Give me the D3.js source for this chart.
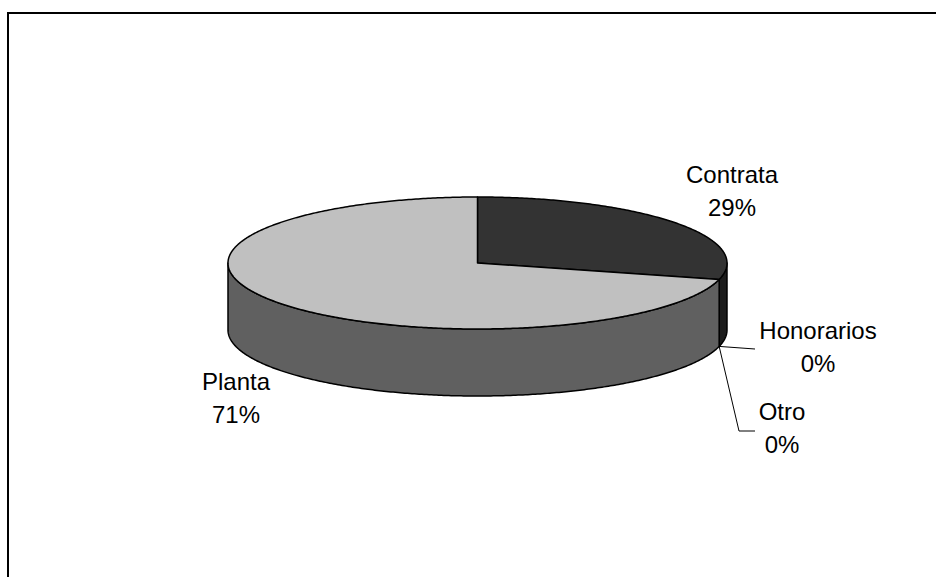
<!DOCTYPE html>
<html>
<head>
<meta charset="utf-8">
<script src="https://cdn.jsdelivr.net/npm/d3@7"></script>
<style>
  body { margin: 0; background: white; }
  svg { display: block; }
  text { font-family: "Liberation Sans", Arial, sans-serif; font-size: 24px; fill: black; }
</style>
</head>
<body>
<svg></svg>
<script>

var categories = ["Contrata", "Honorarios", "Otro", "Planta"];
var values = [29, 0, 0, 71];
var topColors = ["#333333", "#111111", "#888888", "#c0c0c0"];
var sideColors = ["#1c1c1c", "#080808", "#555555", "#606060"];

var width = 936, height = 577;

var cx = 477.5, cy = 263, rx = 249.5, ry = 66, depth = 67;

var svg = d3.select("svg")
    .attr("width", width)
    .attr("height", height);

// chart frame (runs off the right and bottom edges)
svg.append("rect")
    .attr("x", 8)
    .attr("y", 13)
    .attr("width", 1000)
    .attr("height", 1000)
    .attr("fill", "white")
    .style("stroke", "black")
    .style("stroke-width", "2");

var pie = d3.pie().sort(null).value(function(d) { return d; });
var arcs = pie(values);

// point on the ellipse, angle measured clockwise from 12 o'clock
function pt(a, yoff) {
    return [cx + rx * Math.sin(a), cy - ry * Math.cos(a) + (yoff || 0)];
}

function sample(a0, a1, yoff) {
    var n = Math.max(2, Math.ceil(Math.abs(a1 - a0) / 0.01));
    return d3.range(n + 1).map(function(i) {
        return pt(a0 + (a1 - a0) * i / n, yoff);
    });
}

var line = d3.line();

// sides (only the front half is visible)
arcs.forEach(function(d, i) {
    var s = Math.max(d.startAngle, Math.PI / 2);
    var e = Math.min(d.endAngle, 3 * Math.PI / 2);
    if (s >= e) return;
    var pts = sample(s, e, 0).concat(sample(e, s, depth));
    svg.append("path")
        .attr("d", line(pts) + "Z")
        .attr("fill", sideColors[i])
        .style("stroke", "black")
        .style("stroke-width", "1.5")
        .style("stroke-linejoin", "round");
});

// tops
arcs.forEach(function(d, i) {
    if (d.endAngle - d.startAngle <= 0) return;
    var pts = [[cx, cy]].concat(sample(d.startAngle, d.endAngle, 0));
    svg.append("path")
        .attr("d", line(pts) + "Z")
        .attr("fill", topColors[i])
        .style("stroke", "black")
        .style("stroke-width", "1.5")
        .style("stroke-linejoin", "round");
});

// labels: [x, baseline] of first line relative to nothing, leader path for tiny slices
var labelPos = {
    "Contrata":   { x: 732, y: 183, leader: null },
    "Honorarios": { x: 818, y: 339, leader: [[755, 349]] },
    "Otro":       { x: 782, y: 420, leader: [[739, 431], [755, 431]] },
    "Planta":     { x: 236, y: 390, leader: null }
};

var total = d3.sum(values);

arcs.forEach(function(d, i) {
    var name = categories[i];
    var lp = labelPos[name];
    var pct = Math.round(values[i] / total * 100) + "%";

    if (lp.leader) {
        var mid = (d.startAngle + d.endAngle) / 2;
        var p = pt(mid, depth);
        svg.append("path")
            .attr("d", line([p].concat(lp.leader)))
            .attr("fill", "none")
            .style("stroke", "black")
            .style("stroke-width", "1");
    }

    var t = svg.append("text")
        .attr("text-anchor", "middle");
    t.append("tspan").attr("x", lp.x).attr("y", lp.y).text(name);
    t.append("tspan").attr("x", lp.x).attr("y", lp.y + 33).text(pct);
});

</script>
</body>
</html>
